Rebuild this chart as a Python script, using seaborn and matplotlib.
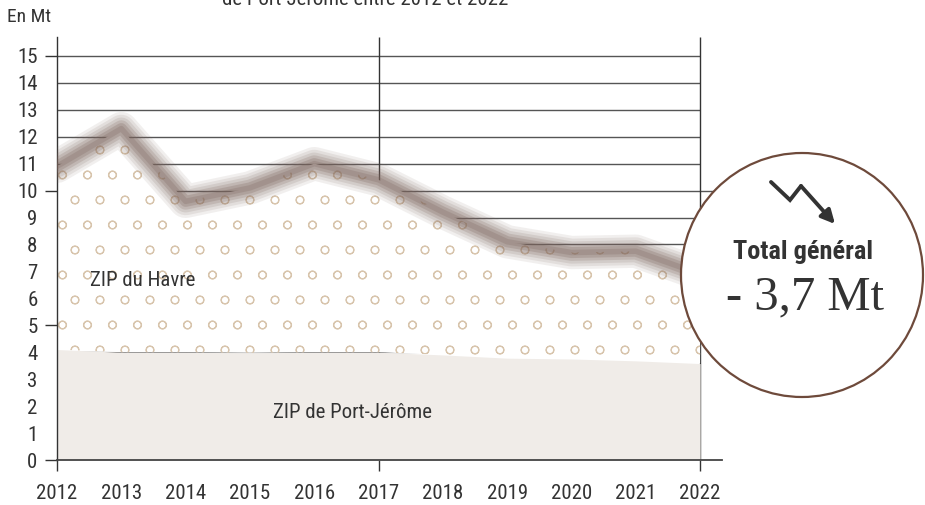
import matplotlib
matplotlib.use('Agg')
import matplotlib.pyplot as plt
import matplotlib.hatch as mhatch
from matplotlib import font_manager
from matplotlib.patches import Ellipse, FancyArrowPatch
from matplotlib.lines import Line2D
import seaborn as sns

# values (Mt)
years = [2012, 2013, 2014, 2015, 2016, 2017, 2018, 2019, 2020, 2021, 2022]
total = [10.9, 12.3, 9.6, 10.1, 11.0, 10.4, 9.2, 8.1, 7.7, 7.75, 6.9]
port_jerome = [4.1, 4.0, 4.0, 3.98, 4.0, 4.0, 3.9, 3.78, 3.75, 3.68, 3.58]
y_ticks = list(range(16))
major_years = [2012, 2017, 2022]
major_y = [0, 5, 10, 15]

TXT = '#333333'


# sparser circle hatch than matplotlib's default 'o' (num_rows must stay even)
class SparseCircles(mhatch.Circles):
    size = 0.16

    def __init__(self, hatch, density):
        self.num_rows = hatch.count('o') * 4
        super().__init__(hatch, density)


mhatch._hatch_types = [SparseCircles if t is mhatch.SmallCircles else t for t in mhatch._hatch_types]


def first_font(names):
    for n in names:
        try:
            font_manager.findfont(font_manager.FontProperties(family=n), fallback_to_default=False)
            return n
        except ValueError:
            pass
    return 'DejaVu Sans'


sns.set_style('white')
cond = first_font(['Liberation Sans Narrow', 'DejaVu Sans Condensed', 'Roboto Condensed',
                   'Noto Sans Condensed', 'Open Sans Condensed'])
plt.rcParams['font.family'] = [cond, 'DejaVu Sans']
plt.rcParams['hatch.linewidth'] = 0.8
plt.rcParams['hatch.color'] = '#d8c5ad'

fig = plt.figure(figsize=(9.25, 5.05), dpi=100)
ax = fig.add_axes([57 / 925, 45 / 505, 665 / 925, 423 / 505])

# grid / frame lines, under the areas
ax.hlines(y_ticks[1:], 2012, 2022, color='#555555', lw=1.0, zorder=1)
ax.hlines([10], 2022, 2022.3, color='#555555', lw=1.0, zorder=1)
ax.vlines([2017, 2022], 0, 15.7, color='#333333', lw=1.0, zorder=1)

# areas
ax.fill_between(years, port_jerome, total, facecolor='white', edgecolor='#d8c5ad',
                linewidth=0, hatch='o', zorder=2)
ax.fill_between(years, 0, port_jerome, facecolor='#f0ece8', linewidth=0, zorder=2.1)

# soft, blurred total line
for lw, a in [(24, 0.10), (20, 0.12), (16, 0.15), (12, 0.2), (8, 0.25), (4, 0.25)]:
    sns.lineplot(x=years, y=total, ax=ax, color='#7d665e', linewidth=lw, alpha=a,
                 solid_joinstyle='round', solid_capstyle='round', zorder=3)

ax.text(2012.51, 6.68, 'ZIP du Havre', ha='left', va='center', fontsize=15, color=TXT, zorder=4)
ax.text(2016.6, 1.75, 'ZIP de Port-Jérôme', ha='center', va='center', fontsize=15, color=TXT, zorder=4)

ax.set_xlim(2012, 2022.34)
ax.set_ylim(0, 15.7)
ax.set_xticks(major_years)
ax.set_xticks([y for y in years if y not in major_years], minor=True)
ax.set_xticklabels([str(y) for y in major_years])
ax.set_xticklabels([str(y) for y in years if y not in major_years], minor=True)
ax.set_yticks(major_y)
ax.set_yticks([v for v in y_ticks if v not in major_y], minor=True)
ax.set_yticklabels([str(v) for v in major_y])
ax.set_yticklabels([str(v) for v in y_ticks if v not in major_y], minor=True)

ax.tick_params(axis='x', which='major', direction='out', length=8, width=1, color=TXT,
               pad=9, labelsize=15, labelcolor=TXT, bottom=True)
ax.tick_params(axis='x', which='minor', length=0, pad=17, labelsize=15, labelcolor=TXT, bottom=True)
ax.tick_params(axis='y', which='major', direction='out', length=9, width=1, color=TXT,
               pad=5, labelsize=15, labelcolor=TXT, left=True)
ax.tick_params(axis='y', which='minor', length=0, pad=14, labelsize=15, labelcolor=TXT, left=True)

sns.despine(ax=ax, top=True, right=True)
ax.spines['left'].set_color(TXT)
ax.spines['left'].set_linewidth(1.0)
ax.spines['bottom'].set_color('#444444')
ax.spines['bottom'].set_linewidth(1.3)
ax.spines['bottom'].set_zorder(3.5)

fig.text(7 / 925, 1 - 17 / 505, 'En Mt', ha='left', va='center', fontsize=14, color=TXT)
fig.text(365 / 925, 1 - 5 / 505, 'de Port-Jérôme entre 2012 et 2022', ha='center',
         va='baseline', fontsize=15, color=TXT)

# circle callout
fig.add_artist(Ellipse((802 / 925, 1 - 275 / 505), 242 / 925, 244 / 505, transform=fig.transFigure,
                       facecolor='white', edgecolor='#6e4a3b', lw=1.6, zorder=5))
px = [771, 790, 801]
py = [182, 200, 186]
fig.add_artist(Line2D([x / 925 for x in px], [1 - y / 505 for y in py], transform=fig.transFigure,
                      color=TXT, lw=2.8, solid_joinstyle='miter', zorder=6))
fig.add_artist(FancyArrowPatch((801 / 925, 1 - 186 / 505), (835 / 925, 1 - 224 / 505),
                               transform=fig.transFigure, arrowstyle='-|>', mutation_scale=20,
                               color=TXT, lw=2.8, shrinkA=0, shrinkB=0, zorder=6))
fig.text(803 / 925, 1 - 252 / 505, 'Total général', ha='center', va='center', fontsize=19,
         fontweight='bold', color=TXT, zorder=6)
fig.text(805 / 925, 1 - 297 / 505, '- 3,7 Mt', ha='center', va='center', fontsize=35,
         family=['Liberation Serif', 'DejaVu Serif'], color=TXT, zorder=6)

fig.savefig('out.png', dpi=100)
